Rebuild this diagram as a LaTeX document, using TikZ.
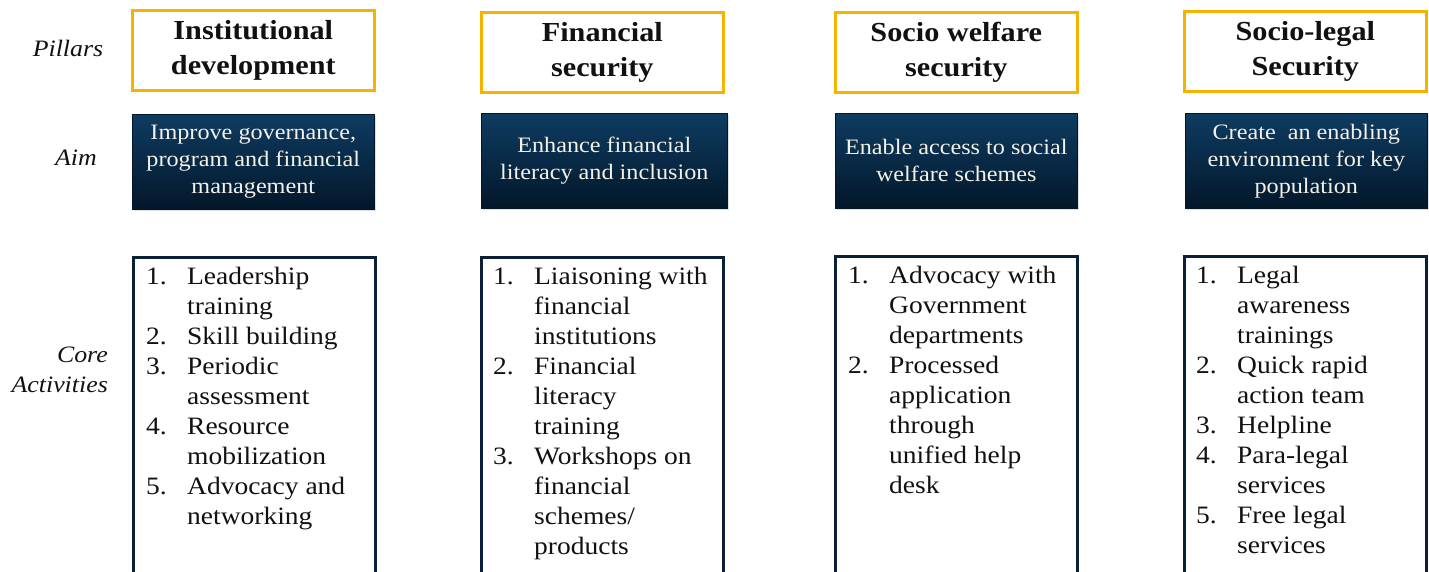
\documentclass[tikz,border=0pt]{standalone}
\usepackage{fontspec}
\setmainfont{Liberation Serif}[FakeStretch=1.1]
\usetikzlibrary{shadows}

\definecolor{pillargold}{HTML}{F5B300}
\definecolor{navytop}{HTML}{0E3C62}
\definecolor{navybot}{HTML}{03172A}
\definecolor{actframe}{HTML}{0A1F38}
\definecolor{inktext}{HTML}{111111}
\definecolor{aimtext}{HTML}{F4F1E8}

\tikzset{
  pillarbox/.style={draw=pillargold, line width=2.6pt, fill=white, anchor=north west,
    align=center, inner sep=0pt, minimum width=242pt, minimum height=80pt,
    text=inktext, font=\bfseries\fontsize{27.5}{35}\selectfont},
  aimbox/.style={top color=navytop, bottom color=navybot, draw=navybot, line width=0.6pt,
    anchor=north west, align=center, inner sep=0pt, minimum width=242pt, minimum height=95pt,
    text=aimtext, font=\fontsize{22}{27}\selectfont,
    drop shadow={opacity=0.25, shadow xshift=1.2pt, shadow yshift=-1.8pt}},
  actbox/.style={draw=actframe, line width=3pt, fill=white, anchor=north west,
    inner sep=0pt, minimum width=242pt, minimum height=340pt},
  acttext/.style={anchor=north west, inner sep=0pt, align=left, text=inktext,
    font=\fontsize{25}{30}\selectfont},
  rowlabel/.style={inner sep=0pt, text=inktext, font=\itshape\fontsize{23.5}{30}\selectfont},
}

% numbered list with a fixed number column
\newcommand{\actlist}[1]{\begin{tabular}{@{}p{41pt}@{}l@{}}#1\end{tabular}}

\begin{document}
\begin{tikzpicture}[x=1pt,y=-1pt]
\useasboundingbox (0,0) rectangle (1429,571);

% row labels
\node[rowlabel] (lpillars) at (68,48) {Pillars};
\node[rowlabel] (laim) at (76,158) {Aim};
\node[rowlabel, align=right, anchor=east] (lcore) at (108,370) {Core\\Activities};

% pillars
\node[pillarbox] (p1) at (131,9)  {Institutional\\development};
\node[pillarbox] (p2) at (480,11) {Financial\\security};
\node[pillarbox] (p3) at (834,11) {Socio welfare\\security};
\node[pillarbox] (p4) at (1183,10) {Socio-legal\\Security};

% aims
\node[aimbox] (a1) at (132,114) {Improve governance,\\program and financial\\management};
\node[aimbox, minimum width=246pt] (a2) at (481,113) {Enhance financial\\literacy and inclusion};
\node[aimbox] (a3) at (835,113) {Enable access to social\\welfare schemes};
\node[aimbox] (a4) at (1185,113) {Create \ an enabling\\environment for key\\population};

% core activity frames (running past the lower edge)
\node[actbox] (c1) at (132,256) {};
\node[actbox] (c2) at (480,256) {};
\node[actbox] (c3) at (834,255) {};
\node[actbox] (c4) at (1183,255) {};

\node[acttext] (t1) at ([xshift=14pt,yshift=-7pt]c1.north west) {\actlist{%
1. & Leadership\\ & training\\
2. & Skill building\\
3. & Periodic\\ & assessment\\
4. & Resource\\ & mobilization\\
5. & Advocacy and\\ & networking}};

\node[acttext] (t2) at ([xshift=13pt,yshift=-7pt]c2.north west) {\actlist{%
1. & Liaisoning with\\ & financial\\ & institutions\\
2. & Financial\\ & literacy\\ & training\\
3. & Workshops on\\ & financial\\ & schemes/\\ & products}};

\node[acttext] (t3) at ([xshift=14pt,yshift=-7pt]c3.north west) {\actlist{%
1. & Advocacy with\\ & Government\\ & departments\\
2. & Processed\\ & application\\ & through\\ & unified help\\ & desk}};

\node[acttext] (t4) at ([xshift=13pt,yshift=-7pt]c4.north west) {\actlist{%
1. & Legal\\ & awareness\\ & trainings\\
2. & Quick rapid\\ & action team\\
3. & Helpline\\
4. & Para-legal\\ & services\\
5. & Free legal\\ & services}};
\end{tikzpicture}
\end{document}
